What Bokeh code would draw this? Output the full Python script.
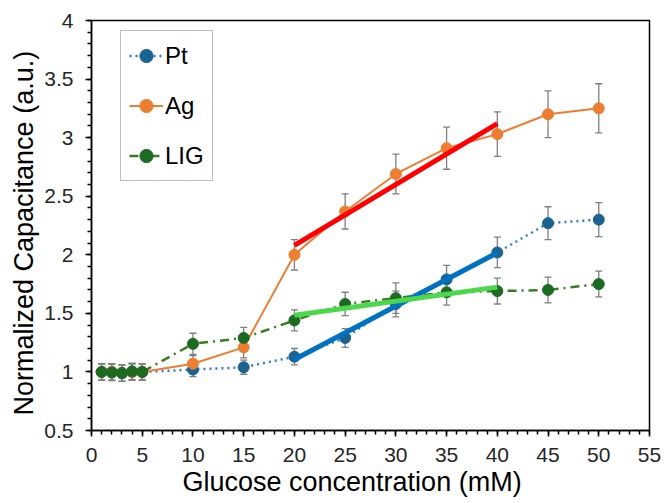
import numpy as np
from bokeh.plotting import figure
from bokeh.models import (ColumnDataSource, Whisker, SingleIntervalTicker, Range1d,
                          Legend, LegendItem, TeeHead, Title)
from bokeh.embed import file_html
from bokeh.resources import INLINE

# ---- data ----
conc = [1, 2, 3, 4, 5, 10, 15, 20, 25, 30, 35, 40, 45, 50]
pt = [1.00, 1.00, 0.99, 1.00, 1.00, 1.02, 1.04, 1.13, 1.29, 1.58, 1.79, 2.02, 2.27, 2.30]
pt_err = [0.07, 0.07, 0.07, 0.07, 0.07, 0.06, 0.06, 0.07, 0.08, 0.11, 0.12, 0.13, 0.14, 0.145]
ag = [1.00, 1.00, 0.99, 1.00, 1.00, 1.07, 1.21, 2.00, 2.37, 2.69, 2.91, 3.03, 3.20, 3.25]
ag_err = [0.07, 0.07, 0.07, 0.07, 0.07, 0.07, 0.09, 0.13, 0.15, 0.17, 0.18, 0.19, 0.20, 0.21]
lig = [1.00, 0.995, 0.99, 1.005, 1.00, 1.24, 1.29, 1.44, 1.58, 1.63, 1.68, 1.69, 1.70, 1.75]
lig_err = [0.07, 0.07, 0.07, 0.07, 0.07, 0.09, 0.09, 0.09, 0.10, 0.13, 0.11, 0.11, 0.11, 0.11]
fit_lo, fit_hi = 20, 40
x_max = 55
x_label = "Glucose concentration (mM)"
y_label = "Normalized Capacitance (a.u.)"

FONT = "Liberation Sans"
TICK_COLOR = "#262626"

p = figure(width=664, height=503, output_backend="svg", toolbar_location=None,
           x_range=Range1d(0, x_max), y_range=Range1d(0.5, 4),
           min_border_left=91, min_border_right=15, min_border_top=20, min_border_bottom=73)
p.grid.visible = False
p.outline_line_color = "black"
p.outline_line_width = 1.5
p.background_fill_color = "white"
p.border_fill_color = "white"

p.xaxis.ticker = SingleIntervalTicker(interval=5, num_minor_ticks=5)
p.yaxis.ticker = SingleIntervalTicker(interval=0.5, num_minor_ticks=5)
for ax in (p.xaxis, p.yaxis):
    ax.axis_line_width = 1.5
    ax.major_tick_line_width = 1.5
    ax.minor_tick_line_width = 1.5
    ax.major_tick_out = 6
    ax.major_tick_in = 0
    ax.minor_tick_out = 4
    ax.minor_tick_in = 0
    ax.major_label_text_font = FONT
    ax.major_label_text_font_size = "21px"
    ax.major_label_text_color = TICK_COLOR
p.xaxis.major_label_standoff = 11
p.yaxis.major_label_standoff = 12
p.yaxis.major_label_overrides = {1: "1", 2: "2", 3: "3", 4: "4"}

# axis titles
p.add_layout(Title(text=x_label, align="left", offset=91, standoff=1,
                   text_font=FONT, text_font_size="27px", text_font_style="normal",
                   text_color="black"), "below")
p.add_layout(Title(text=y_label, align="left", offset=15, standoff=5,
                   text_font=FONT, text_font_size="27px", text_font_style="normal",
                   text_color="black"), "left")

series = [
    ("Pt", pt, pt_err, "#1B6290", "#2A7DC9", "dotted", 2.5),
    ("Ag", ag, ag_err, "#ED7D31", "#ED7D31", "solid", 2),
    ("LIG", lig, lig_err, "#1D6B22", "#3A7D22", "9 5 2 5", 2.5),
]
fits = {"Pt": "#0070C0", "Ag": "#FF0000", "LIG": "#4DD74D"}

items = []
srcs = {}
for name, vals, err, mcol, lcol, dash, lw in series:
    src = ColumnDataSource(dict(x=conc, y=vals,
                                lo=[v - e for v, e in zip(vals, err)],
                                hi=[v + e for v, e in zip(vals, err)]))
    srcs[name] = src
    w = Whisker(source=src, base="x", lower="lo", upper="hi",
                line_color="#7F7F7F", line_width=1.3,
                upper_head=TeeHead(size=7, line_color="#7F7F7F", line_width=1.3),
                lower_head=TeeHead(size=7, line_color="#7F7F7F", line_width=1.3))
    p.add_layout(w)

for name, vals, err, mcol, lcol, dash, lw in series:
    src = srcs[name]
    ln = p.line("x", "y", source=src, line_color=lcol, line_dash=dash, line_width=lw)
    sc = p.scatter("x", "y", source=src, size=11, fill_color=mcol, line_color=mcol)
    items.append(LegendItem(label=name, renderers=[ln, sc]))

# linear fits over 20-40 mM
for name, vals, err, mcol, lcol, dash, lw in series:
    xs = np.array([c for c in conc if fit_lo <= c <= fit_hi], dtype=float)
    ys = np.array([v for c, v in zip(conc, vals) if fit_lo <= c <= fit_hi])
    k, b = np.polyfit(xs, ys, 1)
    fx = [fit_lo, fit_hi]
    p.line(fx, [k * fx[0] + b, k * fx[1] + b], line_color=fits[name], line_width=5)

legend = Legend(items=items, location=(29, 410 - 12 - 149))
legend.label_text_font = FONT
legend.label_text_font_size = "24px"
legend.label_text_color = "black"
legend.glyph_width = 34
legend.glyph_height = 33
legend.label_height = 33
legend.label_standoff = 2
legend.spacing = 17
legend.padding = 8
legend.margin = 0
legend.border_line_color = "#7F7F7F"
legend.border_line_width = 1.2
legend.background_fill_alpha = 1
p.add_layout(legend, "center")

open("out.html", "w").write(file_html(p, INLINE))
